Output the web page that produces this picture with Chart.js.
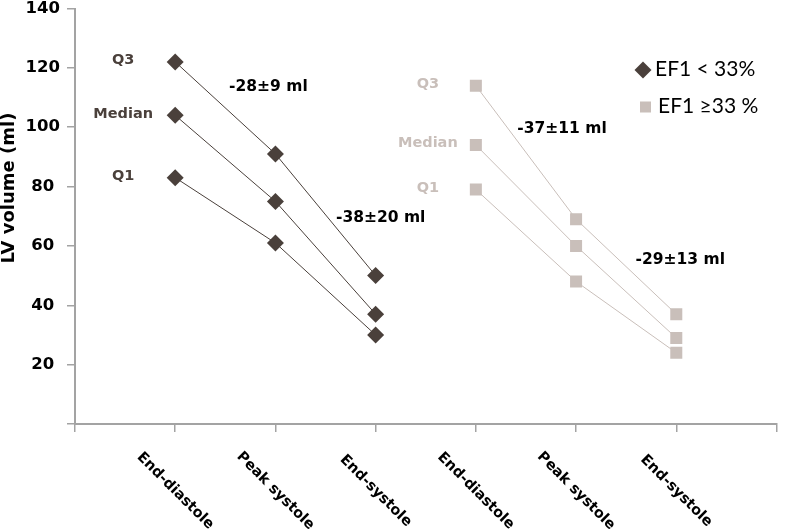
<!DOCTYPE html>
<html>
<head>
<meta charset="utf-8">
<script src="https://cdn.jsdelivr.net/npm/chart.js@4/dist/chart.umd.min.js"></script>
<style>
    html, body { margin: 0; padding: 0; background: #fff; }
    #wrap { width: 785px; height: 532px; position: relative; }
</style>
</head>
<body>
<div id="wrap"><canvas id="lvChart"></canvas></div>
<script>
// phases of each group, shown twice along the x axis
const phases = ["End-diastole", "Peak systole", "End-systole"];

// EF1 < 33 %  (ml)
const lowEfQ3 = [122, 91, 50];
const lowEfMedian = [104, 75, 37];
const lowEfQ1 = [83, 61, 30];

// EF1 >= 33 %  (ml)
const highEfQ3 = [114, 69, 37];
const highEfMedian = [94, 60, 29];
const highEfQ1 = [79, 48, 24];

const quartileNames = ["Q3", "Median", "Q1"];
const changeLabels = ["-28±9 ml", "-38±20 ml", "-37±11 ml", "-29±13 ml"];
const seriesNames = ["EF1 < 33%", "EF1 \u226533 %"];

const yMin = 0, yMax = 140, yStep = 20;

const DARK = "#4a403b";
const LIGHT = "#c9bfba";
const AXIS = "#a3a3a3";
const BOLD = "'DejaVu Sans', Verdana, sans-serif";

// empty slot at each end so the points sit on ticks 1..6
const labels = ["", ...phases, ...phases, ""];
const place = (vals, start) =>
    labels.map((_, i) => (i >= start && i < start + vals.length ? vals[i - start] : null));

const makeSet = (name, vals, start, color, style) => ({
    label: name,
    data: place(vals, start),
    borderColor: color,
    backgroundColor: color,
    borderWidth: 1,
    pointStyle: style,
    pointRadius: 8.5,
    pointBorderWidth: 0,
    spanGaps: false,
});

const datasets = [
    makeSet("Q3", lowEfQ3, 1, DARK, "rectRot"),
    makeSet("Median", lowEfMedian, 1, DARK, "rectRot"),
    makeSet("Q1", lowEfQ1, 1, DARK, "rectRot"),
    makeSet("Q3", highEfQ3, 4, LIGHT, "rect"),
    makeSet("Median", highEfMedian, 4, LIGHT, "rect"),
    makeSet("Q1", highEfQ1, 4, LIGHT, "rect"),
];

// where the change labels sit, in axis units (category index, ml)
const changeSpots = [[1.93, 113.5], [3.05, 69.5], [4.86, 99.3], [6.04, 55.4]];

const decorations = {
    id: "decorations",
    afterDraw(chart) {
        const { ctx, scales: { x, y } } = chart;
        ctx.save();
        ctx.textAlign = "center";
        ctx.textBaseline = "middle";

        // y axis title
        ctx.save();
        ctx.font = `bold 18px ${BOLD}`;
        ctx.fillStyle = "#000";
        ctx.translate(9, 188);
        ctx.rotate(-Math.PI / 2);
        ctx.fillText("LV volume (ml)", 0, 0);
        ctx.restore();

        // rotated phase labels under the ticks
        ctx.font = `bold 14.5px ${BOLD}`;
        ctx.fillStyle = "#000";
        labels.forEach((txt, i) => {
            if (!txt) return;
            ctx.save();
            ctx.translate(x.getPixelForValue(i), 491);
            ctx.rotate(Math.PI / 4);
            ctx.fillText(txt, 0, 0);
            ctx.restore();
        });

        // Q3 / Median / Q1 names beside the first point of each line
        ctx.font = `bold 14.5px ${BOLD}`;
        [[lowEfQ3, lowEfMedian, lowEfQ1, 1, DARK, 52], [highEfQ3, highEfMedian, highEfQ1, 4, LIGHT, 48]]
            .forEach(([a, b, c, idx, color, gap]) => {
                ctx.fillStyle = color;
                [a, b, c].forEach((vals, k) => {
                    ctx.fillText(quartileNames[k], x.getPixelForValue(idx) - gap, y.getPixelForValue(vals[0]) - 1.5);
                });
            });

        // change labels
        ctx.font = `bold 15.5px ${BOLD}`;
        ctx.fillStyle = "#000";
        changeLabels.forEach((txt, i) => {
            const [cx, cy] = changeSpots[i];
            ctx.fillText(txt, x.getPixelForValue(cx), y.getPixelForValue(cy));
        });

        // legend
        ctx.textAlign = "left";
        ctx.textBaseline = "alphabetic";
        ctx.font = "21px Lato, 'Open Sans', sans-serif";
        ctx.fillStyle = DARK;
        ctx.beginPath();
        ctx.moveTo(643, 61.5); ctx.lineTo(651.5, 70); ctx.lineTo(643, 78.5); ctx.lineTo(634.5, 70);
        ctx.closePath();
        ctx.fill();
        ctx.fillStyle = LIGHT;
        ctx.fillRect(640, 101.5, 11, 11);
        ctx.fillStyle = "#000";
        ctx.fillText(seriesNames[0], 655, 76);
        ctx.fillText(seriesNames[1], 658, 113);

        ctx.restore();
    },
};

new Chart(document.getElementById("lvChart"), {
    type: "line",
    data: { labels, datasets },
    options: {
        responsive: true,
        maintainAspectRatio: false,
        animation: false,
        events: [],
        layout: { padding: 0 },
        plugins: { legend: { display: false }, tooltip: { enabled: false } },
        scales: {
            x: {
                type: "category",
                offset: false,
                grid: { display: true, drawOnChartArea: false, drawTicks: true, tickLength: 8, color: AXIS, lineWidth: 1.5 },
                border: { display: true, color: AXIS, width: 2 },
                ticks: { display: false, autoSkip: false },
                afterFit: (scale) => { scale.height = 108; },
            },
            y: {
                min: yMin,
                max: yMax,
                grid: { display: true, drawOnChartArea: false, drawTicks: true, tickLength: 8, color: AXIS, lineWidth: 1.5 },
                border: { display: true, color: AXIS, width: 2 },
                ticks: {
                    stepSize: yStep,
                    padding: 7,
                    crossAlign: "center",
                    color: "#000",
                    font: { family: BOLD, size: 16.5, weight: "bold" },
                    callback: (v) => (v === 0 ? "" : v),
                },
                afterFit: (scale) => {
                    scale.width = 75;
                    scale.paddingTop = 7;
                },
            },
        },
    },
    plugins: [decorations],
});
</script>
</body>
</html>
